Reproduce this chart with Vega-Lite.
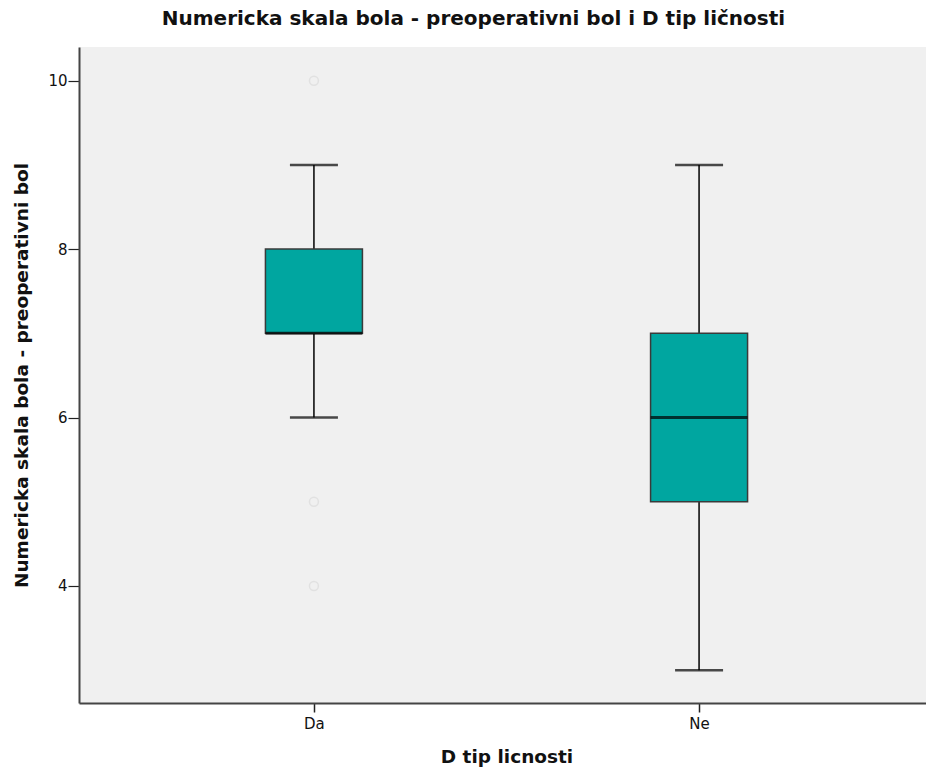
{
  "$schema": "https://vega.github.io/schema/vega-lite/v6.json",
  "width": 855,
  "height": 656,
  "padding": {"left": 12, "top": 9, "right": -8, "bottom": 6},
  "background": "white",
  "title": {
    "text": "Numericka skala bola - preoperativni bol i D tip ličnosti",
    "font": "DejaVu Sans",
    "fontSize": 20,
    "fontWeight": "bold",
    "color": "#111111",
    "anchor": "middle",
    "frame": "bounds",
    "offset": 18
  },
  "datasets": {
    "boxes": [
      {"grupa": "Da", "lower": 6, "q1": 7, "median": 7, "q3": 8, "upper": 9},
      {"grupa": "Ne", "lower": 3, "q1": 5, "median": 6, "q3": 7, "upper": 9}
    ],
    "outliers": [
      {"grupa": "Da", "vrednost": 10},
      {"grupa": "Da", "vrednost": 5},
      {"grupa": "Da", "vrednost": 4}
    ]
  },
  "encoding": {
    "x": {
      "field": "grupa",
      "type": "nominal",
      "scale": {"type": "point", "domain": ["Da", "Ne"], "padding": 0.61},
      "axis": {
        "title": "D tip licnosti",
        "titleFont": "DejaVu Sans",
        "titleFontSize": 18.5,
        "titleFontWeight": "bold",
        "titleColor": "#111111",
        "titlePadding": 16,
        "labelFont": "DejaVu Sans",
        "labelFontSize": 15,
        "labelColor": "#111111",
        "labelAngle": 0,
        "labelPadding": 4,
        "tickColor": "#222222",
        "tickSize": 9,
        "tickWidth": 1.5,
        "domain": true,
        "domainColor": "#444444",
        "domainWidth": 2,
        "grid": false
      }
    }
  },
  "layer": [
    {
      "data": {"name": "boxes"},
      "mark": {"type": "rule", "color": "#111111", "strokeWidth": 1.6},
      "encoding": {
        "y": {
          "field": "lower",
          "type": "quantitative",
          "scale": {"domain": [2.61, 10.4], "nice": false, "zero": false},
          "axis": {
            "title": "Numericka skala bola - preoperativni bol",
            "titleFont": "DejaVu Sans",
            "titleFontSize": 18.5,
            "titleFontWeight": "bold",
            "titleColor": "#111111",
            "titlePadding": 16,
            "labelFont": "DejaVu Sans",
            "labelFontSize": 15,
            "labelColor": "#111111",
            "labelPadding": 1,
            "format": "d",
            "values": [4, 6, 8, 10],
            "tickColor": "#222222",
            "tickSize": 11,
            "tickWidth": 1.2,
            "domain": true,
            "domainColor": "#444444",
            "domainWidth": 2,
            "grid": false
          }
        },
        "y2": {"field": "upper"}
      }
    },
    {
      "data": {"name": "boxes"},
      "mark": {"type": "tick", "color": "#000000", "thickness": 2.5, "size": 48, "orient": "horizontal"},
      "encoding": {"y": {"field": "lower", "type": "quantitative"}}
    },
    {
      "data": {"name": "boxes"},
      "mark": {"type": "tick", "color": "#000000", "thickness": 2.5, "size": 48, "orient": "horizontal"},
      "encoding": {"y": {"field": "upper", "type": "quantitative"}}
    },
    {
      "data": {"name": "boxes"},
      "mark": {"type": "bar", "size": 97, "fill": "#00A6A0", "stroke": "#3a3a3a", "strokeWidth": 1.5, "opacity": 1},
      "encoding": {
        "y": {"field": "q1", "type": "quantitative"},
        "y2": {"field": "q3"}
      }
    },
    {
      "data": {"name": "boxes"},
      "mark": {"type": "tick", "color": "#000000", "thickness": 3, "size": 97, "orient": "horizontal"},
      "encoding": {"y": {"field": "median", "type": "quantitative"}}
    },
    {
      "data": {"name": "outliers"},
      "mark": {"type": "point", "shape": "circle", "size": 80, "filled": false, "stroke": "#dcdcdc", "strokeWidth": 1.5},
      "encoding": {"y": {"field": "vrednost", "type": "quantitative"}}
    },
    {
      "mark": {"type": "rule", "color": "#444444", "strokeWidth": 2.5},
      "encoding": {"y": {"datum": 10.4}}
    }
  ],
  "config": {
    "view": {"fill": "#F0F0F0", "stroke": null}
  }
}
